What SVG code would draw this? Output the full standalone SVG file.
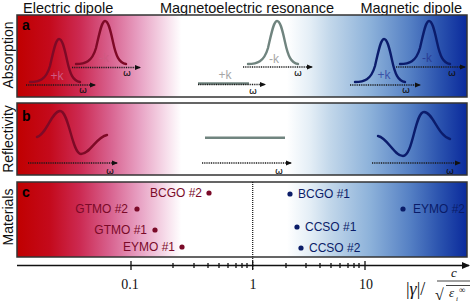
<svg xmlns="http://www.w3.org/2000/svg" width="470" height="304" viewBox="0 0 470 304">
<style>
.hdr{font-family:"Liberation Sans",Arial,sans-serif;font-size:14.5px;fill:#111}
.side{font-family:"Liberation Sans",Arial,sans-serif;font-size:14px;fill:#111}
.let{font-family:"Liberation Sans",Arial,sans-serif;font-size:14px;font-weight:bold;fill:#000}
.panel{stroke:#333;stroke-width:1.5}
.ax{fill:none;stroke:#1a1a1a;stroke-width:1.5;stroke-dasharray:1 0.8}
.om{font-family:"DejaVu Sans",sans-serif;font-size:9.5px;fill:#111;text-anchor:middle}
.kl{font-family:"Liberation Sans",Arial,sans-serif;font-size:12px;text-anchor:middle}
.cr{fill:none;stroke-width:2.4;stroke-linecap:round}
.red{stroke:#7e0a26}
.blu{stroke:#0b1c6c}
.gry{stroke:#70847f}
.mr{font-family:"Liberation Sans",Arial,sans-serif;font-size:12px;fill:#7a0a28;text-anchor:end}
.mb{font-family:"Liberation Sans",Arial,sans-serif;font-size:12px;fill:#0a1c68}
.tick{stroke:#111;stroke-width:1.3}
.num{font-family:"Liberation Serif","Times New Roman",serif;font-size:14px;fill:#111;text-anchor:middle}
.math{font-family:"Liberation Serif","Times New Roman",serif;fill:#111}
</style>
<defs>
<linearGradient id="bg" gradientUnits="userSpaceOnUse" x1="17" y1="0" x2="467" y2="0">
<stop offset="0" stop-color="#c00000"/>
<stop offset="0.073" stop-color="#c40a1c"/>
<stop offset="0.14" stop-color="#cc2a52"/>
<stop offset="0.207" stop-color="#d8628f"/>
<stop offset="0.273" stop-color="#e8a2c4"/>
<stop offset="0.329" stop-color="#f6dbe9"/>
<stop offset="0.365" stop-color="#ffffff"/>
<stop offset="0.6" stop-color="#ffffff"/>
<stop offset="0.651" stop-color="#e4eef6"/>
<stop offset="0.696" stop-color="#c2d7ea"/>
<stop offset="0.784" stop-color="#8db2da"/>
<stop offset="0.873" stop-color="#5580c4"/>
<stop offset="0.94" stop-color="#2a52ae"/>
<stop offset="1" stop-color="#0a2a9c"/>
</linearGradient>
<marker id="ah" viewBox="0 0 6 6" refX="5" refY="3" markerWidth="6" markerHeight="6" markerUnits="userSpaceOnUse" orient="auto">
<path d="M0,0.5 L6,3 L0,5.5 Z" fill="#111"/>
</marker>
<marker id="axh" viewBox="0 0 8 8" refX="7" refY="4" markerWidth="8" markerHeight="8" markerUnits="userSpaceOnUse" orient="auto">
<path d="M0,0.5 L8,4 L0,7.5 Z" fill="#111"/>
</marker>
<path id="abs" d="M0,0 C9,0 16,-2 20,-16 C24,-34 26,-43 29,-43 C32,-43 34,-36 37,-22 C40,-8 43,-1 50,0"/>
</defs>

<g id="headers">
<text class="hdr" x="23" y="12.5">Electric dipole</text>
<text class="hdr" x="247" y="12.5" text-anchor="middle">Magnetoelectric resonance</text>
<text class="hdr" x="462" y="12.5" text-anchor="end">Magnetic dipole</text>
</g>

<g id="side-labels">
<text class="side" transform="translate(13,55) rotate(-90)" text-anchor="middle">Absorption</text>
<text class="side" transform="translate(13,139) rotate(-90)" text-anchor="middle">Reflectivity</text>
<text class="side" transform="translate(13,217) rotate(-90)" text-anchor="middle">Materials</text>
</g>

<g id="panel-a">
<rect class="panel" x="17" y="15" width="450" height="82" fill="url(#bg)"/>
<text class="let" x="22" y="30">a</text>
<use href="#abs" class="cr red" transform="translate(30,82)"/>
<use href="#abs" class="cr red" transform="translate(76,64)"/>
<text class="kl" x="57" y="80" fill="#cf5a82">+k</text>
<text class="kl" x="104" y="62" fill="#cf5a82">-k</text>
<line x1="198" y1="83.5" x2="249" y2="83.5" class="gry" stroke-width="2.5"/>
<use href="#abs" class="cr gry" transform="translate(248,64)"/>
<text class="kl" x="225" y="79" fill="#a6a6a6">+k</text>
<text class="kl" x="274" y="63" fill="#a6a6a6">-k</text>
<use href="#abs" class="cr blu" transform="translate(355,82)"/>
<use href="#abs" class="cr blu" transform="translate(400,64)"/>
<text class="kl" x="384" y="79" fill="#3a52a8">+k</text>
<text class="kl" x="427" y="62" fill="#2a3e96">-k</text>
</g>

<g id="panel-b">
<rect class="panel" x="17" y="103" width="450" height="72" fill="url(#bg)"/>
<text class="let" x="22" y="121">b</text>
<path class="cr red" d="M37,137 C46,135 52,111 60,111 C69,111 72,154 81,154 C90,154 96,137 107,135"/>
<line x1="205" y1="137.7" x2="285" y2="137.7" class="gry" stroke-width="2.5"/>
<path class="cr blu" d="M378,136 C388,138 394,156 403,156 C413,156 415,112 424,112 C433,112 438,136 450,139"/>
</g>

<g id="panel-c">
<rect class="panel" x="17" y="182" width="450" height="75" fill="url(#bg)"/>
<text class="let" x="22" y="197">c</text>
<g fill="#7a0a28">
<circle cx="209" cy="193" r="2.6"/>
<circle cx="137" cy="209" r="2.6"/>
<circle cx="155" cy="230" r="2.6"/>
<circle cx="182" cy="247" r="2.6"/>
</g>
<text class="mr" x="202" y="197">BCGO #2</text>
<text class="mr" x="128" y="213">GTMO #2</text>
<text class="mr" x="147" y="234">GTMO #1</text>
<text class="mr" x="175" y="251">EYMO #1</text>
<g fill="#0a1c68">
<circle cx="290" cy="194" r="2.6"/>
<circle cx="403" cy="209" r="2.6"/>
<circle cx="297" cy="227" r="2.6"/>
<circle cx="301" cy="248" r="2.6"/>
</g>
<text class="mb" x="298" y="198">BCGO #1</text>
<text class="mb" x="413" y="213">EYMO #2</text>
<text class="mb" x="305" y="231">CCSO #1</text>
<text class="mb" x="309" y="252">CCSO #2</text>
</g>

<g id="connectors">
<line class="ax" x1="26" y1="85" x2="95" y2="85" marker-end="url(#ah)"/>
<line class="ax" x1="72" y1="67.5" x2="140" y2="67.5" marker-end="url(#ah)"/>
<line class="ax" x1="198" y1="84.5" x2="265" y2="84.5" marker-end="url(#ah)"/>
<line class="ax" x1="243" y1="67" x2="312" y2="67" marker-end="url(#ah)"/>
<line class="ax" x1="350" y1="85" x2="420" y2="85" marker-end="url(#ah)"/>
<line class="ax" x1="396" y1="67" x2="465" y2="67" marker-end="url(#ah)"/>
<line class="ax" x1="28" y1="163" x2="117" y2="163" marker-end="url(#ah)"/>
<line class="ax" x1="202" y1="163" x2="291" y2="163" marker-end="url(#ah)"/>
<line class="ax" x1="372" y1="163" x2="460" y2="163" marker-end="url(#ah)"/>
<line x1="252.7" y1="182" x2="252.7" y2="269" stroke="#111" stroke-width="1.2" stroke-dasharray="1 1"/>
<line x1="17" y1="265.5" x2="469" y2="265.5" stroke="#111" stroke-width="1.5" marker-end="url(#axh)"/>
</g>

<g id="omega-labels">
<text class="om" x="83" y="93">ω</text>
<text class="om" x="127" y="76">ω</text>
<text class="om" x="253" y="94">ω</text>
<text class="om" x="298" y="76">ω</text>
<text class="om" x="406" y="93">ω</text>
<text class="om" x="452" y="76">ω</text>
<text class="om" x="110" y="174">ω</text>
<text class="om" x="279" y="174">ω</text>
<text class="om" x="450" y="174">ω</text>
</g>

<g id="axis-ticks">
<line class="tick" x1="131" y1="261" x2="131" y2="270"/>
<line class="tick" x1="252.7" y1="261" x2="252.7" y2="270"/>
<line class="tick" x1="365" y1="261" x2="365" y2="270"/>
<g class="tick">
<line x1="173" y1="263" x2="173" y2="268"/>
<line x1="194" y1="263" x2="194" y2="268"/>
<line x1="208" y1="263" x2="208" y2="268"/>
<line x1="219" y1="263" x2="219" y2="268"/>
<line x1="228" y1="263" x2="228" y2="268"/>
<line x1="236" y1="263" x2="236" y2="268"/>
<line x1="242" y1="263" x2="242" y2="268"/>
<line x1="247" y1="263" x2="247" y2="268"/>
<line x1="286" y1="263" x2="286" y2="268"/>
<line x1="306" y1="263" x2="306" y2="268"/>
<line x1="320" y1="263" x2="320" y2="268"/>
<line x1="331" y1="263" x2="331" y2="268"/>
<line x1="340" y1="263" x2="340" y2="268"/>
<line x1="348" y1="263" x2="348" y2="268"/>
<line x1="354" y1="263" x2="354" y2="268"/>
<line x1="359" y1="263" x2="359" y2="268"/>
</g>
<text class="num" x="130" y="289">0.1</text>
<text class="num" x="253" y="289">1</text>
<text class="num" x="366" y="289">10</text>
</g>

<g id="axis-title">
<text class="math" x="406" y="295" font-size="18">|<tspan font-style="italic">γ</tspan>|/</text>
<text class="math" x="451" y="277" font-size="13" font-style="italic">c</text>
<line x1="437" y1="281" x2="470" y2="281" stroke="#111" stroke-width="0.8"/>
<text class="math" x="435" y="300" font-size="16">√</text>
<line x1="446" y1="285.5" x2="470" y2="285.5" stroke="#111" stroke-width="0.8"/>
<text class="math" x="449" y="297" font-size="13" font-style="italic">ε</text>
<text class="math" x="456" y="301" font-size="7" font-style="italic">i</text>
<text class="math" x="459" y="293" font-size="9">∞</text>
</g>
</svg>
